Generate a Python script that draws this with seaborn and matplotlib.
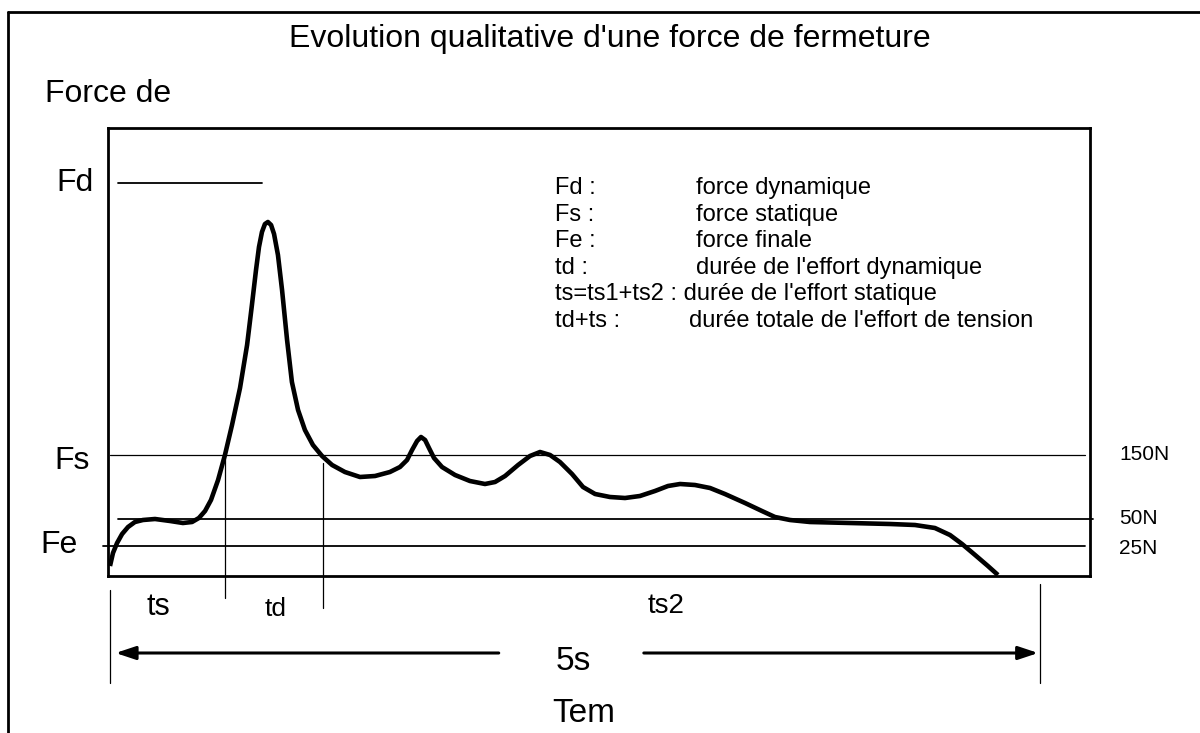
import numpy as np
import pandas as pd
import matplotlib
matplotlib.use("Agg")
import matplotlib.pyplot as plt
import seaborn as sns

# courbe qualitative (temps en s, niveau de force en unités arbitraires)
temps = [0.000, 0.016, 0.038, 0.065, 0.097, 0.134, 0.177, 0.242, 0.323, 0.392,
         0.441, 0.478, 0.511, 0.543, 0.581, 0.618, 0.656, 0.699, 0.737, 0.763,
         0.785, 0.801, 0.817, 0.833, 0.849, 0.866, 0.882, 0.903, 0.925, 0.952,
         0.978, 1.011, 1.048, 1.091, 1.140, 1.194, 1.263, 1.344, 1.425, 1.505,
         1.559, 1.597, 1.624, 1.651, 1.672, 1.694, 1.715, 1.742, 1.785, 1.855,
         1.935, 2.016, 2.070, 2.124, 2.194, 2.258, 2.312, 2.366, 2.419, 2.484,
         2.543, 2.608, 2.688, 2.769, 2.849, 2.930, 3.000, 3.065, 3.145, 3.226,
         3.306, 3.414, 3.505, 3.575, 3.656, 3.763, 3.978, 4.194, 4.328, 4.435,
         4.516, 4.581, 4.651, 4.720, 4.774]
force = [10, 23, 33, 42, 49, 54, 56, 57, 55, 53,
         54, 58, 65, 76, 96, 121, 151, 188, 231, 271,
         306, 329, 344, 352, 354, 351, 342, 321, 286, 236,
         194, 166, 146, 131, 120, 111, 104, 99, 100, 104,
         109, 116, 126, 135, 139, 136, 128, 118, 109, 101,
         95, 92, 94, 100, 111, 120, 124, 121, 114, 102,
         89, 82, 79, 78, 80, 85, 90, 92, 91, 88,
         82, 73, 65, 59, 56, 54, 53, 52, 51, 48,
         41, 32, 21, 10, 1]

niveau_fd = 393
niveaux = [121, 57, 30]          # Fs, 50N, 25N
etiquettes_n = ["150N", "50N", "25N"]
t_td = [0.618, 1.145]            # limites de td
duree_totale = 5

legende_cle = ["Fd :", "Fs :", "Fe :", "td :", "ts=ts1+ts2 :", "td+ts :"]
legende_txt = ["force dynamique", "force statique", "force finale",
               "durée de l'effort dynamique", "durée de l'effort statique",
               "durée totale de l'effort de tension"]

sns.set_style("white")
plt.rcParams['font.family'] = ['Liberation Sans', 'DejaVu Sans']
plt.rcParams['text.color'] = 'black'

fig = plt.figure(figsize=(12, 7.33), dpi=100)
W, H = 1200, 733
ax = fig.add_axes([108 / W, (H - 576) / H, (1090 - 108) / W, (576 - 128) / H])

df = pd.DataFrame({"t": temps, "F": force})
sns.lineplot(data=df, x="t", y="F", ax=ax, color="black", linewidth=3.3,
             clip_on=False)
ax.lines[-1].set_solid_capstyle("butt")
ax.lines[-1].set_solid_joinstyle("round")

ax.set_xlim((108 - 110) / 186, (1090 - 110) / 186)
ax.set_ylim(0, 448)
ax.set_xticks([])
ax.set_yticks([])
ax.set_xlabel("")
ax.set_ylabel("")
for s in ax.spines.values():
    s.set_linewidth(2)
    s.set_color("black")

kw = dict(color="black", clip_on=False)
# lignes de niveau
ax.plot([0.0, 5.24], [niveaux[0]] * 2, lw=0.9, **kw)
ax.plot([0.043, 5.285], [niveaux[1]] * 2, lw=1.3, **kw)
ax.plot([-0.038, 5.24], [niveaux[2]] * 2, lw=1.3, **kw)
ax.plot([0.043, 0.817], [niveau_fd] * 2, lw=1.3, **kw)

# limites td / ts
ax.plot([t_td[0]] * 2, [niveaux[0], -22], lw=0.9, **kw)
ax.plot([t_td[1]] * 2, [113, -32], lw=0.9, **kw)
ax.plot([0, 0], [-14, -107], lw=0.9, **kw)
ax.plot([duree_totale] * 2, [-8, -107], lw=0.9, **kw)

# flèche 5s
ya = -77
ax.annotate("", xy=(0.03, ya), xytext=(2.09, ya), annotation_clip=False,
            arrowprops=dict(arrowstyle="-|>,head_length=1.2,head_width=0.4",
                            color="black", lw=2.2, shrinkA=0, shrinkB=0))
ax.annotate("", xy=(duree_totale - 0.01, ya), xytext=(2.87, ya),
            annotation_clip=False,
            arrowprops=dict(arrowstyle="-|>,head_length=1.2,head_width=0.4",
                            color="black", lw=2.2, shrinkA=0, shrinkB=0))

# textes
fig.text(610 / W, 1 - 39 / H, "Evolution qualitative d'une force de fermeture",
         ha="center", va="center", fontsize=23)
fig.text(45 / W, 1 - 94 / H, "Force de", ha="left", va="center", fontsize=23)
fig.text(56 / W, 1 - 183 / H, "Fd", ha="left", va="center", fontsize=23)
fig.text(54 / W, 1 - 461 / H, "Fs", ha="left", va="center", fontsize=23)
fig.text(40 / W, 1 - 545 / H, "Fe", ha="left", va="center", fontsize=23)
fig.text(158 / W, 1 - 607 / H, "ts", ha="center", va="center", fontsize=22)
fig.text(276 / W, 1 - 609 / H, "td", ha="center", va="center", fontsize=19)
fig.text(666 / W, 1 - 606 / H, "ts2", ha="center", va="center", fontsize=20)
fig.text(573 / W, 1 - 662 / H, "5s", ha="center", va="center", fontsize=24)
fig.text(584 / W, 1 - 713 / H, "Tem", ha="center", va="center", fontsize=24)
for lvl, lab in zip([454, 519, 549], etiquettes_n):
    fig.text(1119 / W, 1 - lvl / H, lab, ha="left", va="center", fontsize=15)

x2 = [696, 696, 696, 696, None, 689]
for i, (k, v) in enumerate(zip(legende_cle, legende_txt)):
    y = 1 - (188 + i * 26.6) / H
    if x2[i] is None:
        fig.text(555 / W, y, k + " " + v, ha="left", va="center", fontsize=17)
    else:
        fig.text(555 / W, y, k, ha="left", va="center", fontsize=17)
        fig.text(x2[i] / W, y, v, ha="left", va="center", fontsize=17)

# cadre extérieur
fig.add_artist(plt.Line2D([8 / W, 8 / W], [0, 1 - 12 / H], color="black",
                          lw=2, transform=fig.transFigure))
fig.add_artist(plt.Line2D([8 / W, 1], [1 - 12 / H, 1 - 12 / H], color="black",
                          lw=2, transform=fig.transFigure))

fig.savefig("out.png", dpi=100)
